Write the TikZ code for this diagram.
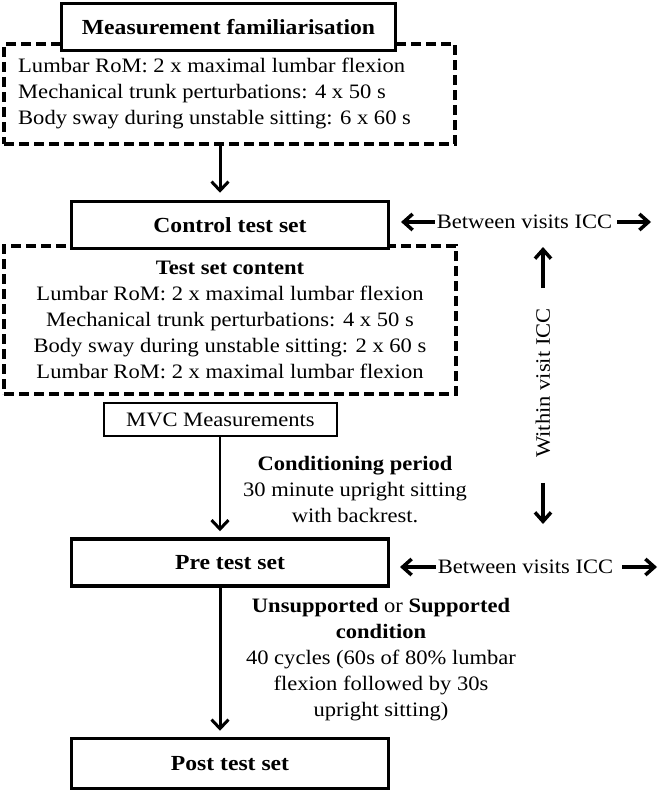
\documentclass[tikz,border=0pt]{standalone}
\usepackage{fontspec}
\setmainfont[FakeStretch=1.1]{Liberation Serif}
\usetikzlibrary{arrows.meta}
\begin{document}
\begin{tikzpicture}[x=1pt,y=-1pt,
  txt/.style={font=\fontsize{20.5}{26}\selectfont, inner sep=0pt},
  mainbox/.style={draw, line width=3.5pt, fill=white, minimum width=317pt, minimum height=47pt, inner sep=0pt, font=\fontsize{21.5}{26}\selectfont\bfseries},
  group/.style={draw, dash pattern=on 10pt off 5pt, line width=3.5pt, inner sep=0pt},
  flow/.style={-{Straight Barb[length=9pt,width=17pt,line width=3pt]}, line width=3pt},
  icc/.style={-{Straight Barb[length=9pt,width=16pt,line width=3.5pt]}, line width=4pt},
]
\useasboundingbox (0,0) rectangle (660,792);
\node[group, minimum width=451pt, minimum height=100pt] (famgroup) at (229.5,94) {};
\node[group, minimum width=452pt, minimum height=148pt] (ctrlgroup) at (230,320) {};
\node[mainbox, minimum width=334pt] (fam) at (228.5,27) {Measurement familiarisation};
\node[mainbox] (ctrl) at (230,225) {Control test set};
\node[mainbox] (pre) at (230,562.5) {Pre test set};
\node[mainbox, minimum height=50pt] (post) at (230,763.5) {Post test set};
\node[draw, line width=2.2pt, minimum width=233pt, minimum height=33pt, txt] (mvc) at (220.5,419.5) {MVC Measurements};

\node[txt, anchor=west, align=left] (famtxt) at (18,93) {Lumbar RoM: 2 x maximal lumbar flexion\\Mechanical trunk perturbations: 4 x 50 s\\Body sway during unstable sitting: 6 x 60 s};
\node[txt, align=center] (ctrltxt) at (230,320) {\textbf{Test set content}\\Lumbar RoM: 2 x maximal lumbar flexion\\Mechanical trunk perturbations: 4 x 50 s\\Body sway during unstable sitting: 2 x 60 s\\Lumbar RoM: 2 x maximal lumbar flexion};

\coordinate (spine) at (220,0);
\draw[flow, shorten >=7pt] (famgroup.south -| spine) -- (ctrl.north -| spine);
\draw[flow, line width=2.3pt, shorten >=6pt] (mvc.south -| spine) -- (pre.north -| spine);
\draw[flow, shorten >=6pt] (pre.south -| spine) -- (post.north -| spine);

\node[txt, align=center] (cond) at (355,490) {\textbf{Conditioning period}\\30 minute upright sitting\\with backrest.};
\node[txt, align=center] (unsup) at (381,660) {\textbf{Unsupported} or \textbf{Supported}\\\textbf{condition}\\40 cycles (60s of 80\% lumbar\\flexion followed by 30s\\upright sitting)};

\node[txt] (bv1) at (524.5,222) {Between visits ICC};
\coordinate (bv1l) at (401,222);
\coordinate (bv1r) at (651,222);
\draw[icc, shorten <=2pt] (bv1.west) -- (bv1l);
\draw[icc, shorten <=5pt] (bv1.east) -- (bv1r);

\node[txt] (bv2) at (525.5,567) {Between visits ICC};
\coordinate (bv2l) at (400,567);
\coordinate (bv2r) at (657,567);
\draw[icc, shorten <=2pt] (bv2.west) -- (bv2l);
\draw[icc, shorten <=9pt] (bv2.east) -- (bv2r);

\node[txt, rotate=90] (wv) at (543,383) {Within visit ICC};
\coordinate (wvt) at (543,247);
\coordinate (wvb) at (543,524);
\draw[icc, shorten <=20pt] (wv.east) -- (wvt);
\draw[icc, shorten <=25pt] (wv.west) -- (wvb);
\end{tikzpicture}
\end{document}
